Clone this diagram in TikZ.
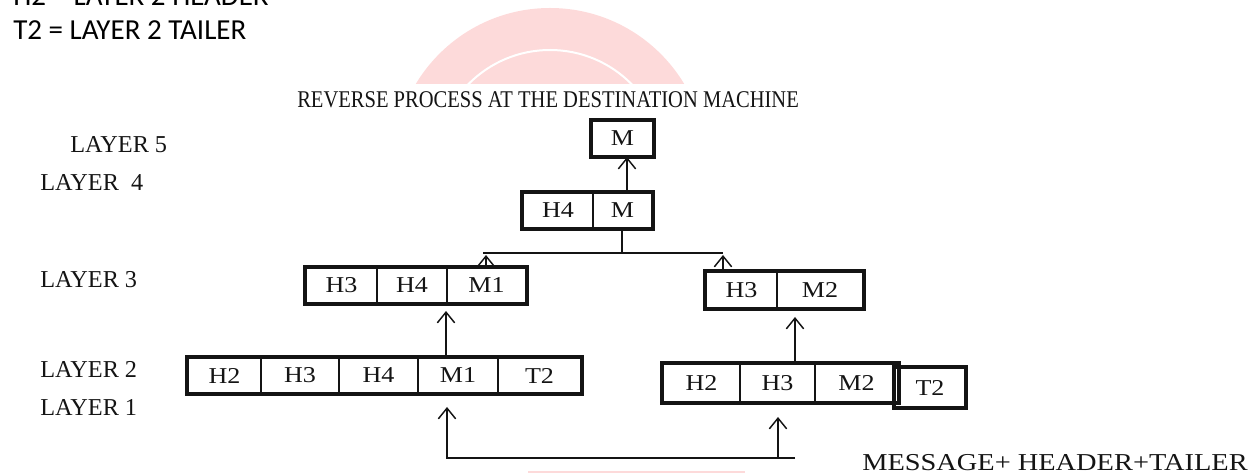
\documentclass[tikz,border=0pt]{standalone}
\usepackage{fontspec}
\setmainfont{Liberation Serif}
\newfontfamily\calfont{Carlito}
\usetikzlibrary{arrows.meta}

\definecolor{wmpink}{RGB}{253,218,218}
\definecolor{ink}{RGB}{20,20,20}

% box labels are set slightly wide
\newcommand\celltext[1]{\scalebox{1.15}[1]{#1}}

\begin{document}
\begin{tikzpicture}[x=0.75pt,y=-0.75pt,
  cell/.style={draw=ink, line width=1.6pt, inner sep=0pt, text=ink,
    font=\fontsize{17}{17}\selectfont},
  frame/.style={draw=ink, line width=2.4pt},
  lbl/.style={anchor=base west, inner sep=0pt, text=ink,
    font=\fontsize{18.2}{19}\selectfont},
  legend/.style={anchor=base west, inner sep=0pt, text=black,
    font=\calfont\fontsize{21.75}{22}\selectfont},
  link/.style={draw=ink, line width=1.1pt},
  arr/.style={link, -{Straight Barb[length=8pt,width=13pt,line width=1.1pt]}},
]
\useasboundingbox (0,0) rectangle (1252,473);
\clip (0,0) rectangle (1252,473);

% faint watermark arc behind the heading
\begin{scope}
  \clip (0,0) rectangle (1252,84);
  \fill[wmpink] (550,164.5) circle[radius=156.5];
  \draw[white, line width=1.5pt] (550,164.5) circle[radius=114.5];
\end{scope}
\draw[wmpink, line width=1.5pt] (528,472) -- (745,472);

% legend
\node[legend] (legH) at (13,6) {H2 = LAYER 2 HEADER};
\node[legend] (legT) at (13,40) {T2 = LAYER 2 TAILER};

% heading
\node[lbl, font=\fontsize{18}{19}\selectfont] (title) at (297,108)
  {\scalebox{0.856}[1]{REVERSE PROCESS AT THE DESTINATION MACHINE}};

% layer labels
\node[lbl] (L5) at (70,153) {LAYER 5};
\node[lbl] (L4) at (40,191) {LAYER\ \ 4};
\node[lbl] (L3) at (40,288) {LAYER 3};
\node[lbl] (L2) at (40,378) {LAYER 2};
\node[lbl] (L1) at (40,416) {LAYER 1};

% layer 5
\node[cell, minimum width=45.75pt, minimum height=26.25pt] (t-m) at (622.5,138.5) {\celltext{M}};
\draw[frame] (t-m.north west) rectangle (t-m.south east);

% layer 4
\node[cell, minimum width=52.5pt, minimum height=26.25pt] (f-h4) at (558,210.5) {\celltext{H4}};
\node[cell, minimum width=44.25pt, minimum height=26.25pt] (f-m) at (622.5,210.5) {\celltext{M}};
\draw[frame] (f-h4.north west) rectangle (f-m.south east);

% layer 3, left
\node[cell, minimum width=53.25pt, minimum height=26.25pt] (ta-h3) at (341.5,285.5) {\celltext{H3}};
\node[cell, minimum width=52.5pt, minimum height=26.25pt] (ta-h4) at (412,285.5) {\celltext{H4}};
\node[cell, minimum width=59.25pt, minimum height=26.25pt] (ta-m1) at (486.5,285.5) {\celltext{M1}};
\draw[frame] (ta-h3.north west) rectangle (ta-m1.south east);

% layer 3, right
\node[cell, minimum width=53.25pt, minimum height=27pt] (tb-h3) at (741.5,290) {\celltext{H3}};
\node[cell, minimum width=64.5pt, minimum height=27pt] (tb-m2) at (820,290) {\celltext{M2}};
\draw[frame] (tb-h3.north west) rectangle (tb-m2.south east);

% layer 2, left
\node[cell, minimum width=54.75pt, minimum height=26.25pt] (sa-h2) at (224.5,375.5) {\celltext{H2}};
\node[cell, minimum width=58.5pt, minimum height=26.25pt] (sa-h3) at (300,375.5) {\celltext{H3}};
\node[cell, minimum width=59.25pt, minimum height=26.25pt] (sa-h4) at (378.5,375.5) {\celltext{H4}};
\node[cell, minimum width=60pt, minimum height=26.25pt] (sa-m1) at (458,375.5) {\celltext{M1}};
\node[cell, minimum width=62.25pt, minimum height=26.25pt] (sa-t2) at (539.5,375.5) {\celltext{T2}};
\draw[frame] (sa-h2.north west) rectangle (sa-t2.south east);

% layer 2, right
\node[cell, minimum width=57.75pt, minimum height=28.5pt] (sb-h2) at (701.5,383) {\celltext{H2}};
\node[cell, minimum width=56.25pt, minimum height=28.5pt] (sb-h3) at (777.5,383) {\celltext{H3}};
\node[cell, minimum width=62.25pt, minimum height=28.5pt] (sb-m2) at (856.5,383) {\celltext{M2}};
\draw[frame] (sb-h2.north west) rectangle (sb-m2.south east);
\node[cell, minimum width=52.5pt, minimum height=29.25pt] (sb-t2) at (930,387.5) {\celltext{T2}};
\draw[frame] (sb-t2.north west) rectangle (sb-t2.south east);

% bottom caption
\node[lbl] (msg) at (862,470)
  {\scalebox{1.17}[1]{MESSAGE+ HEADER+TAILER}};

% connector points
\coordinate (a1) at (627,193);
\coordinate (split) at (622,253);
\coordinate (bl) at (483,253);
\coordinate (br) at (723,253);
\coordinate (c1) at (486,255);
\coordinate (c2) at (723,255);
\coordinate (d1) at (446,311);
\coordinate (e1) at (795,317);
\coordinate (f0) at (795,458);
\coordinate (f1) at (447,407);
\coordinate (f2) at (778,417);

% layer 4 -> layer 5
\draw[arr] (a1) -- (t-m.south -| a1);
% split of layer 4 into two layer 3 pieces
\draw[link] (f-m.south -| split) -- (split);
\draw[link] (bl) -- (br);
\draw[arr] (ta-m1.north -| c1) -- (c1);
\draw[arr] (tb-h3.north -| c2) -- (c2);
% layer 2 -> layer 3
\draw[arr] (sa-m1.north -| d1) -- (d1);
\draw[arr] (sb-h3.north -| e1) -- (e1);
% incoming frames -> layer 2
\draw[arr] (f0) -- (f1 |- f0) -- (f1);
\draw[arr] (f2 |- f0) -- (f2);
\end{tikzpicture}
\end{document}
